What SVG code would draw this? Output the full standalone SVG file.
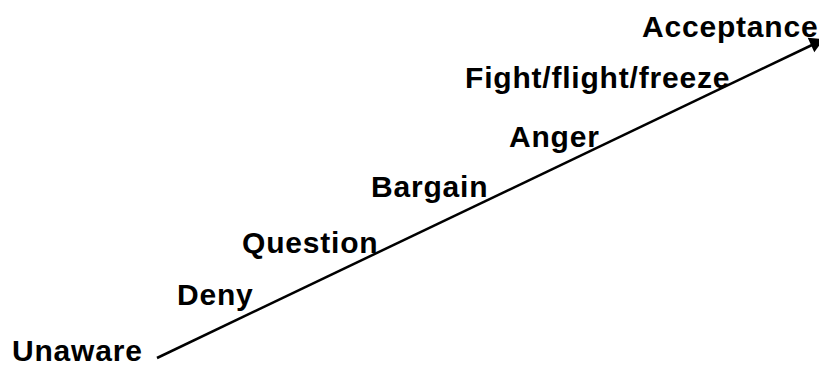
<svg xmlns="http://www.w3.org/2000/svg" width="819" height="366" viewBox="0 0 819 366">
<style>
.lbl{font-family:"Liberation Sans",Arial,sans-serif;font-weight:bold;font-size:30px;letter-spacing:0.8px;fill:#000}
.ln{stroke:#000;stroke-width:2.5;fill:none}
</style>
<rect width="819" height="366" fill="#fff"/>
<g id="connectors">
<line class="ln" x1="157" y1="358" x2="812" y2="45"/>
<polygon points="823.7,39.2 807.7,37.7 814.3,52.3" fill="#000"/>
</g>
<g id="unaware"><text class="lbl" x="12" y="361">Unaware</text></g>
<g id="deny"><text class="lbl" x="177" y="305">Deny</text></g>
<g id="question"><text class="lbl" x="242" y="253">Question</text></g>
<g id="bargain"><text class="lbl" x="371" y="197">Bargain</text></g>
<g id="anger"><text class="lbl" x="509" y="147">Anger</text></g>
<g id="fight"><text class="lbl" x="465" y="88">Fight/flight/freeze</text></g>
<g id="acceptance"><text class="lbl" x="642" y="37">Acceptance</text></g>
</svg>
